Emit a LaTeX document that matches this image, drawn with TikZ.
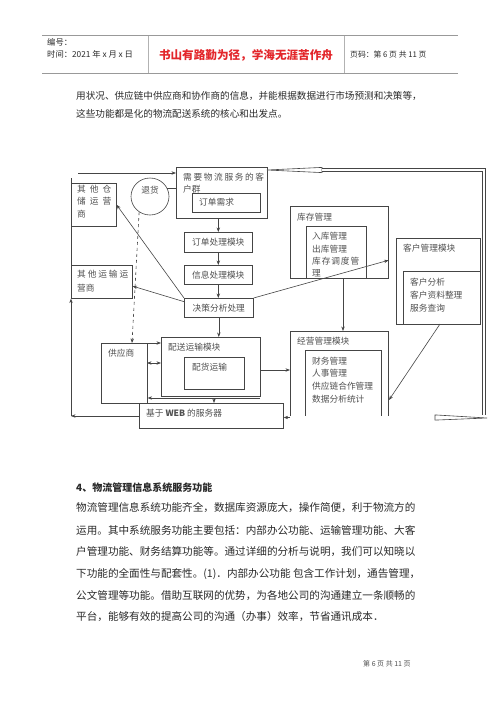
\documentclass[tikz,border=0pt]{standalone}
\usepackage{fontspec}
\setmainfont{Noto Sans CJK SC}
\usetikzlibrary{arrows.meta,shapes.geometric,calc}
\makeatletter
\def\spr@ad#1#2\spr@nil{#1\ifx\relax#2\relax\else\hfill\spr@ad#2\spr@nil\fi}
\newcommand\spreadto[2]{\makebox[#1][s]{\spr@ad#2\spr@nil}}
\makeatother
\definecolor{dgray}{HTML}{454545}
\definecolor{tgray}{HTML}{505050}
\definecolor{btext}{HTML}{2A2A2A}
\definecolor{hdred}{HTML}{E3262B}
\tikzset{
  box/.style={draw=dgray, line width=0.6pt, inner sep=0pt, anchor=north west,
    font=\fontsize{8.7}{12}\selectfont, text=tgray},
  lbl/.style={inner sep=0pt, anchor=west, font=\fontsize{8.7}{12}\selectfont, text=tgray},
  mlbl/.style={inner sep=0pt, anchor=north west, align=left, text=tgray},
  arr/.style={draw=dgray, line width=0.6pt, -{Stealth[length=4.5pt,width=3.4pt]}},
  conn/.style={draw=dgray, line width=0.6pt},
  body/.style={inner sep=0pt, anchor=west, text=btext, font=\fontsize{10.6}{12}\selectfont},
}
\begin{document}
\begin{tikzpicture}[x=1pt,y=-1pt]
\useasboundingbox (0,0) rectangle (500,707);
\fill[white] (0,0) rectangle (500,707);

% header
\draw[gray!80, line width=1.1pt] (42,35.5) -- (458,35.5);
\draw[gray!80, line width=0.9pt] (42,73) -- (458,73);
\draw[gray!60, line width=0.6pt] (148,35.5) -- (148,73);
\draw[gray!60, line width=0.6pt] (344,35.5) -- (344,73);
\node[inner sep=0pt, anchor=west, font=\fontsize{8.3}{10}\selectfont, text=btext] (h1) at (47,42) {编号：};
\node[inner sep=0pt, anchor=west, font=\fontsize{8.3}{10}\selectfont, text=btext] (h2) at (47,54) {时间：2021 年 x 月 x 日};
\node[inner sep=0pt, font=\fontsize{11.6}{13}\selectfont\bfseries, text=hdred] (h3) at (246,55) {书山有路勤为径，学海无涯苦作舟};
\node[inner sep=0pt, anchor=west, font=\fontsize{7.8}{10}\selectfont, text=btext] (h4) at (350,55) {页码：第 6 页 共 11 页};

% top text
\node[body, font=\fontsize{9.6}{12}\selectfont] (p1) at (76,96) {用状况、供应链中供应商和协作商的信息，并能根据数据进行市场预测和决策等，};
\node[body, font=\fontsize{9.6}{12}\selectfont] (p2) at (76,114) {这些功能都是化的物流配送系统的核心和出发点。};

% ===== diagram boxes =====
\node[box, minimum width=91pt, minimum height=51pt] (xq) at (176,167) {};
\node[mlbl, font=\fontsize{8.7}{12}\selectfont] (txq) at (183,173) {\spreadto{81pt}{需要物流服务的客}\\户群};
\node[box, minimum width=68pt, minimum height=19pt] (dd) at (192,193) {};
\node[lbl] (tdd) at (199,202.5) {订单需求};
\node[box, minimum width=68pt, minimum height=20pt] (ddcl) at (184,232) {订单处理模块};
\node[box, minimum width=68pt, minimum height=19pt] (xxcl) at (184,265) {信息处理模块};
\node[box, minimum width=69pt, minimum height=19pt] (jc) at (184,298) {决策分析处理};

\node[box, minimum width=45pt, minimum height=43pt] (qtcc) at (71,183) {};
\node[mlbl, font=\fontsize{8.7}{12.8}\selectfont] (tqtcc) at (77,184.5) {\spreadto{34pt}{其他仓}\\\spreadto{34pt}{储运营}\\商};
\node[box, minimum width=61pt, minimum height=33pt] (qtys) at (71,265) {};
\node[mlbl, font=\fontsize{8.7}{14}\selectfont] (tqtys) at (77,269.5) {\spreadto{51pt}{其他运输运}\\营商};

\node[draw=dgray, line width=0.6pt, ellipse, minimum width=38pt, minimum height=37pt, inner sep=0pt] (th) at (150,196.5) {};
\node[lbl, anchor=center] (tth) at (150,190) {退货};

\node[box, minimum width=98pt, minimum height=72pt] (kc) at (290,206) {};
\node[lbl] (tkc) at (297,217) {库存管理};
\node[box, minimum width=60pt, minimum height=52pt] (kcin) at (306,226) {};
\begin{scope}
\clip (kcin.north west) rectangle (kcin.south east);
\node[mlbl, font=\fontsize{8.7}{12.4}\selectfont] (tkcin) at (312,232.2) {入库管理\\出库管理\\\spreadto{47pt}{库存调度管}\\理};
\end{scope}

\node[box, minimum width=84pt, minimum height=86pt] (kh) at (396,238) {};
\node[lbl] (tkh) at (403,248) {客户管理模块};
\node[box, minimum width=77pt, minimum height=53pt] (khin) at (403,271) {};
\node[mlbl, font=\fontsize{8.7}{13}\selectfont] (tkhin) at (410,277.5) {客户分析\\客户资料整理\\服务查询};

\node[box, minimum width=98pt, minimum height=85pt] (jy) at (290,331) {};
\node[lbl] (tjy) at (297,341) {经营管理模块};
\node[box, minimum width=76pt, minimum height=66pt] (jyin) at (305,350) {};
\node[mlbl, font=\fontsize{8.7}{12.7}\selectfont] (tjyin) at (312,356.5) {财务管理\\人事管理\\供应链合作管理\\数据分析统计};

\node[box, minimum width=99pt, minimum height=59pt] (ps) at (161,337) {};
\node[lbl] (tps) at (168,347) {配送运输模块};
\node[box, minimum width=60pt, minimum height=32pt] (ph) at (184,357) {};
\node[lbl] (tph) at (192,367) {配货运输};

\node[box, minimum width=46pt, minimum height=60pt] (gys) at (101,343) {};
\node[lbl] (tgys) at (108,353) {供应商};

\node[box, minimum width=144pt, minimum height=25pt] (web) at (139,403) {};
\node[lbl] (tweb) at (146,413) {基于 \textbf{WEB} 的服务器};

% ===== connectors =====
\coordinate (tl) at (78,173);
\draw[arr] (tl) -- (tl -| xq.west);
\coordinate (lv) at (71,178);
\draw[conn] (lv) -- (qtys.north west);
\coordinate (lb) at (71,416);
\draw[arr] (web.west |- lb) -- (lb);
\draw[arr] (lb) -- (qtys.south west);

\draw[conn] (th.25) -- (th.25 -| xq.west);
\coordinate (gysn) at (132,343);
\draw[arr, dashed] (th.235) -- (gysn);
\draw[arr] (gysn) -- (gysn -| ps.west);

\draw[arr] (ddcl.north |- xq.south) -- (ddcl.north);
\draw[arr] (ddcl.south) -- (xxcl.north -| ddcl.south);
\draw[arr] (xxcl.south) -- (jc.north -| xxcl.south);
\draw[arr] (jc.south) -- (jc.south |- ps.north);

\draw[arr] (jc.north west) -- (qtcc.east);
\draw[arr] (jc.170) -- (qtys.-8);
\draw[arr] (jc.north east) -- (kc.-20);

\coordinate (kcx) at (343,278);
\draw[arr] (kcx) -- (kcx |- jy.north);
\coordinate (khx) at (440,324);
\coordinate (jyr) at (389,400);
\draw[arr] (khx) -- (jyr);
\coordinate (psr) at (260,370);
\draw[arr] (psr) -- (psr -| jy.west);
\coordinate (gyr) at (147,363);
\draw[draw=dgray, line width=0.6pt, {Stealth[length=4.5pt,width=3.4pt]}-{Stealth[length=4.5pt,width=3.4pt]}] (gyr) -- (gyr -| ps.west);
\coordinate (psb) at (260,398);
\draw[arr] (psb) -- (psb -| gys.east);
\coordinate (wt) at (214,398);
\draw[arr] (wt) -- (wt |- web.north);

% hollow arrows / double lines on the right
\coordinate (ta) at (267,170);
\coordinate (tb) at (322,170);
\coordinate (tc) at (484,170);
\coordinate (td) at (484,415);
\draw[conn, fill=white] (ta) -- ($(tb)+(0,-2.6)$) -- ($(tb)+(0,2.6)$) -- cycle;
\draw[draw=dgray, line width=0.55pt, double, double distance=2.2pt] (tb) -- (tc) -- (td);

\coordinate (ba) at (435,417.5);
\coordinate (bb) at (487,418);
\draw[draw=dgray, line width=0.55pt, double, double distance=2.2pt] (ba) -- (web.east |- ba);
\draw[arr] (290,417.5) -- (web.east |- ba);
\draw[conn, fill=white] ($(ba)+(0,-2.6)$) -- (bb) -- ($(ba)+(0,2.6)$) -- cycle;

% ===== section text =====
\node[body, font=\fontsize{10}{12}\selectfont\bfseries] (hd) at (76,488) {4、物流管理信息系统服务功能};
\node[body] (q1) at (76,508) {物流管理信息系统功能齐全，数据库资源庞大，操作简便，利于物流方的};
\node[body] (q2) at (76,530) {运用。其中系统服务功能主要包括：内部办公功能、运输管理功能、大客};
\node[body] (q3) at (76,552) {户管理功能、财务结算功能等。通过详细的分析与说明，我们可以知晓以};
\node[body] (q4) at (76,574) {下功能的全面性与配套性。(1)．内部办公功能 包含工作计划，通告管理，};
\node[body] (q5) at (76,596) {公文管理等功能。借助互联网的优势，为各地公司的沟通建立一条顺畅的};
\node[body] (q6) at (76,617) {平台，能够有效的提高公司的沟通（办事）效率，节省通讯成本．};

% footer
\node[inner sep=0pt, anchor=west, font=\fontsize{7}{9}\selectfont, text=tgray] (ft) at (363,664) {第 6 页 共 11 页};
\end{tikzpicture}
\end{document}
